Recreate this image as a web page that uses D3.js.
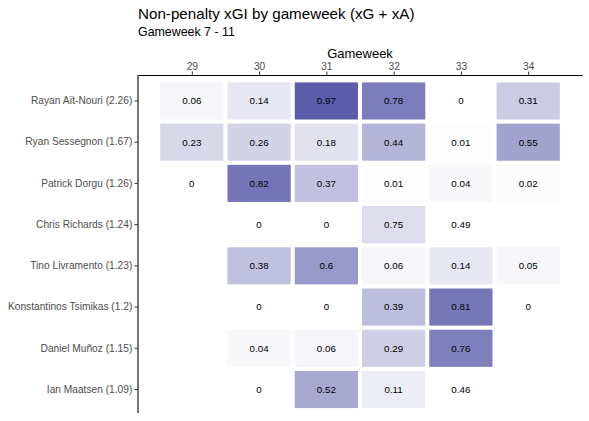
<!DOCTYPE html>
<html>
<head>
<meta charset="utf-8">
<script src="https://cdn.jsdelivr.net/npm/d3@7"></script>
<style>
  body { margin: 0; background: #fff; }
  text { font-family: "Liberation Sans", Arial, sans-serif; }
</style>
</head>
<body>
<div id="chart-area"></div>
<script>
// players, top to bottom, with their total over the gameweeks
const players = [
  'Rayan Aït-Nouri', 'Ryan Sessegnon', 'Patrick Dorgu', 'Chris Richards',
  'Tino Livramento', 'Konstantinos Tsimikas', 'Daniel Muñoz', 'Ian Maatsen'
];
const totals = ['2.26', '1.67', '1.26', '1.24', '1.23', '1.2', '1.15', '1.09'];
const gameweeks = [29, 30, 31, 32, 33, 34];

// xGI per player per gameweek (null = no tile)
const xgi = [
  [0.06, 0.14, 0.97, 0.78, 0, 0.31],
  [0.23, 0.26, 0.18, 0.44, 0.01, 0.55],
  [0, 0.82, 0.37, 0.01, 0.04, 0.02],
  [null, 0, 0, 0.75, 0.49, null],
  [null, 0.38, 0.6, 0.06, 0.14, 0.05],
  [null, 0, 0, 0.39, 0.81, 0],
  [null, 0.04, 0.06, 0.29, 0.76, null],
  [null, 0, 0.52, 0.11, 0.46, null]
];

// tile shading as it appears in the picture (a few tiles differ from their label)
const shade = [
  [0.06, 0.14, 0.97, 0.78, 0, 0.31],
  [0.23, 0.26, 0.18, 0.44, 0.01, 0.55],
  [0, 0.82, 0.37, 0.01, 0.04, 0.02],
  [null, 0, 0, 0.2, 0, null],
  [null, 0.38, 0.6, 0.06, 0.14, 0.05],
  [null, 0, 0, 0.39, 0.81, 0],
  [null, 0.04, 0.06, 0.29, 0.76, null],
  [null, 0, 0.52, 0.11, 0, null]
];

const W = 589;
const H = 421;
const panel = { left: 138, right: 582, top: 75, bottom: 413 };

const svg = d3.select('#chart-area')
  .append('svg')
  .attr('width', W)
  .attr('height', H);

// gameweek is continuous: tile range 28.5 - 34.5 plus 5% either side
const x = d3.scaleLinear()
  .domain([28.2, 34.8])
  .range([panel.left, panel.right]);

const y = d3.scaleBand()
  .domain(players)
  .range([panel.top, panel.bottom])
  .paddingInner(0.1)
  .paddingOuter(0.15)
  .align(0.6);

const fill = d3.scaleLinear()
  .domain([0, 0.97])
  .range(['#ffffff', '#5c5caa']);

const cells = [];
players.forEach((p, i) => {
  gameweeks.forEach((gw, j) => {
    if (xgi[i][j] !== null) {
      cells.push({ player: p, gw: gw, value: xgi[i][j], shade: shade[i][j] });
    }
  });
});

const tileW = (x(1) - x(0)) * 0.94;

svg.append('g')
  .selectAll('rect')
  .data(cells)
  .enter()
  .append('rect')
  .attr('x', (d) => x(d.gw) - tileW / 2)
  .attr('y', (d) => y(d.player))
  .attr('width', tileW)
  .attr('height', y.bandwidth())
  .attr('fill', (d) => fill(d.shade));

svg.append('g')
  .selectAll('text')
  .data(cells)
  .enter()
  .append('text')
  .attr('x', (d) => x(d.gw))
  .attr('y', (d) => y(d.player) + y.bandwidth() / 2)
  .attr('dy', '0.35em')
  .attr('text-anchor', 'middle')
  .attr('font-size', '9.8px')
  .attr('fill', '#000')
  .text((d) => String(d.value));

// axes
const xAxis = svg.append('g')
  .attr('transform', 'translate(0,' + panel.top + ')')
  .call(d3.axisTop(x)
    .tickValues(gameweeks)
    .tickFormat(d3.format('d'))
    .tickSize(3.5)
    .tickSizeOuter(0)
    .tickPadding(2));

const yAxis = svg.append('g')
  .attr('transform', 'translate(' + panel.left + ',0)')
  .call(d3.axisLeft(y)
    .tickFormat((p, i) => p + ' (' + totals[i] + ')')
    .tickSize(3.5)
    .tickSizeOuter(0)
    .tickPadding(2.2));

[xAxis, yAxis].forEach((a) => {
  a.select('.domain')
    .attr('stroke', '#000')
    .attr('stroke-width', 1.1);
  a.selectAll('.tick line').attr('stroke', '#333');
  a.selectAll('.tick text')
    .attr('fill', '#4d4d4d')
    .attr('font-size', '10.2px')
    .style('font-family', '"Liberation Sans", Arial, sans-serif');
});

// y axis line runs over the whole panel
yAxis.select('.domain')
  .attr('d', 'M0,' + panel.top + 'V' + panel.bottom);

svg.append('text')
  .attr('x', (panel.left + panel.right) / 2)
  .attr('y', 57.5)
  .attr('text-anchor', 'middle')
  .attr('font-size', '13px')
  .attr('fill', '#000')
  .text('Gameweek');

svg.append('text')
  .attr('x', panel.left)
  .attr('y', 18.5)
  .attr('font-size', '15.2px')
  .attr('fill', '#000')
  .text('Non-penalty xGI by gameweek (xG + xA)');

svg.append('text')
  .attr('x', panel.left)
  .attr('y', 36)
  .attr('font-size', '12.4px')
  .attr('fill', '#000')
  .text('Gameweek 7 - 11');
</script>
</body>
</html>
